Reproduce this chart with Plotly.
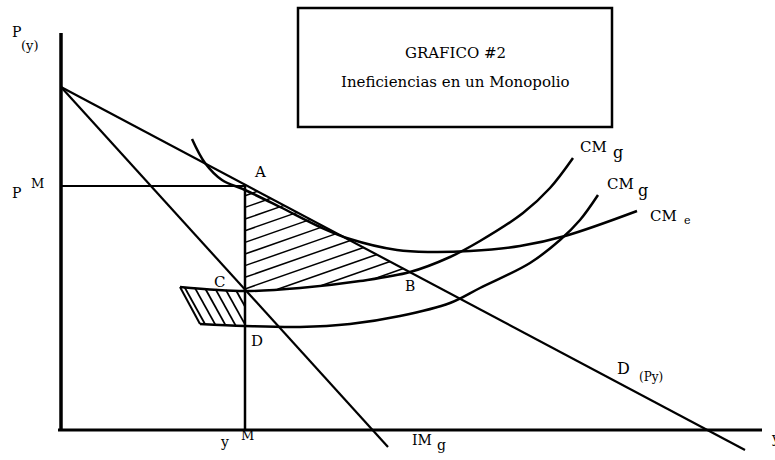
import numpy as np
import plotly.graph_objects as go

# ---- data (diagram units; origin at the axes' corner) ----
axis_x_end = 701
axis_y_end = 397

demand_x = [0, 684]
demand_y = [343, -20]

img_x = [0, 327]
img_y = [343, -17]

cme_x = [131, 144, 161, 184, 219, 259, 289, 336, 369, 409, 459, 504, 576]
cme_y = [291, 267, 250, 240, 223, 203, 191, 180, 178, 179, 184, 194, 219]

cmg1_x = [119, 184, 239, 299, 349, 389, 419, 462, 489, 512]
cmg1_y = [143, 139, 142, 149, 158, 173, 189, 217, 242, 272]

cmg2_x = [139, 184, 239, 289, 339, 389, 419, 469, 499, 519, 537]
cmg2_y = [106, 104, 103, 106, 114, 127, 142, 167, 190, 210, 235]

p_m = 244
y_m = 184
point_b = (349, 158)

FONT = "DejaVu Serif"

fig = go.Figure()


def add_line(x, y, width=2.5, spline=False):
    fig.add_trace(go.Scatter(
        x=x, y=y, mode="lines",
        line=dict(color="black", width=width,
                  shape="spline" if spline else "linear", smoothing=1.0),
        hoverinfo="skip", showlegend=False))


def hatch(poly, direction, spacing):
    d = np.array(direction, float)
    d /= np.linalg.norm(d)
    n = np.array([-d[1], d[0]])
    pts = np.array(poly, float)
    s_all = pts @ n
    xs, ys = [], []
    s = s_all.min() + spacing / 2
    while s < s_all.max():
        hits = []
        for i in range(len(pts)):
            p1, p2 = pts[i], pts[(i + 1) % len(pts)]
            s1, s2 = p1 @ n, p2 @ n
            if s1 != s2 and (s1 - s) * (s2 - s) <= 0:
                t = (s - s1) / (s2 - s1)
                hits.append(p1 + t * (p2 - p1))
        if len(hits) >= 2:
            hits.sort(key=lambda p: p @ d)
            xs += [hits[0][0], hits[-1][0], None]
            ys += [hits[0][1], hits[-1][1], None]
        s += spacing
    return xs, ys


# demand value at y_m (point A)
a_y = demand_y[0] + (demand_y[1] - demand_y[0]) * (y_m - demand_x[0]) / (demand_x[1] - demand_x[0])

# big hatched triangle A-B-C
seg = [(x, y) for x, y in zip(cmg1_x, cmg1_y) if y_m <= x <= point_b[0]]
tri = [(y_m, a_y), point_b] + [p for p in reversed(seg) if p[0] != point_b[0]]
hx, hy = hatch(tri, (1, 0.35), 11.0)
add_line(hx, hy, width=1.5)

# small hatched parallelogram left of C-D
para = [(cmg1_x[0], cmg1_y[0]), (cmg1_x[1], cmg1_y[1]),
        (cmg2_x[1], cmg2_y[1]), (cmg2_x[0], cmg2_y[0])]
px_, py_ = hatch(para, (20, -36), 8.7)
add_line(px_, py_, width=1.8)

# axes
add_line([0, 0], [0, axis_y_end], width=3.5)
add_line([-3, axis_x_end], [0, 0], width=3)

# monopoly price / quantity
add_line([0, y_m], [p_m, p_m], width=2.2)
add_line([y_m, y_m], [0, p_m], width=2.5)

# demand and marginal revenue
add_line(demand_x, demand_y, width=2.2)
add_line(img_x, img_y, width=2.2)

# cost curves
add_line(cme_x, cme_y, width=2.5, spline=True)
add_line(cmg1_x, cmg1_y, width=2.5, spline=True)
add_line(cmg2_x, cmg2_y, width=2.5, spline=True)

# parallelogram left edge
add_line([cmg1_x[0], cmg2_x[0]], [cmg1_y[0], cmg2_y[0]], width=2)

ann = []


def label(x, y, text, size=13, xanchor="center"):
    ann.append(dict(x=x, y=y, text=text, showarrow=False, xanchor=xanchor,
                    yanchor="middle",
                    font=dict(family=FONT, size=size, color="black")))


label(-45, 398, "P", 14)
label(-31, 385, "(y)", 13)
label(-45, 237, "P", 14)
label(-24, 247, "M", 13)
label(199, 258, "A", 15)
label(158, 148, "C", 15)
label(349, 144, "B", 14)
label(196, 89, "D", 15)
label(163, -12, "y", 14)
label(186, -5, "M", 13)
label(361, -10, "IM", 14)
label(380, -15, "g", 14)
label(562, 62, "D", 16)
label(590, 53, "(Py)", 12)
label(532, 283, "CM", 15)
label(557, 278, "g", 16)
label(559, 246, "CM", 15)
label(582, 240, "g", 16)
label(602, 214, "CM", 15)
label(626, 210, "e", 11)
label(708, -8, "y", 14, xanchor="left")

label(394, 377, "GRAFICO #2", 15)
label(394, 348, "Ineficiencias en un Monopolio", 15)

fig.update_layout(
    width=775, height=460,
    margin=dict(l=0, r=0, t=0, b=0),
    paper_bgcolor="white", plot_bgcolor="white",
    xaxis=dict(range=[-61, 714], visible=False, fixedrange=True),
    yaxis=dict(range=[-30, 430], visible=False, fixedrange=True),
    annotations=ann,
    shapes=[dict(type="rect", xref="x", yref="y", x0=237, x1=551, y0=303, y1=422,
                 line=dict(color="black", width=2.5), fillcolor="rgba(0,0,0,0)")],
)

fig.write_html("out.html", config={"displayModeBar": False},
               post_script="document.body.style.margin='0';")
